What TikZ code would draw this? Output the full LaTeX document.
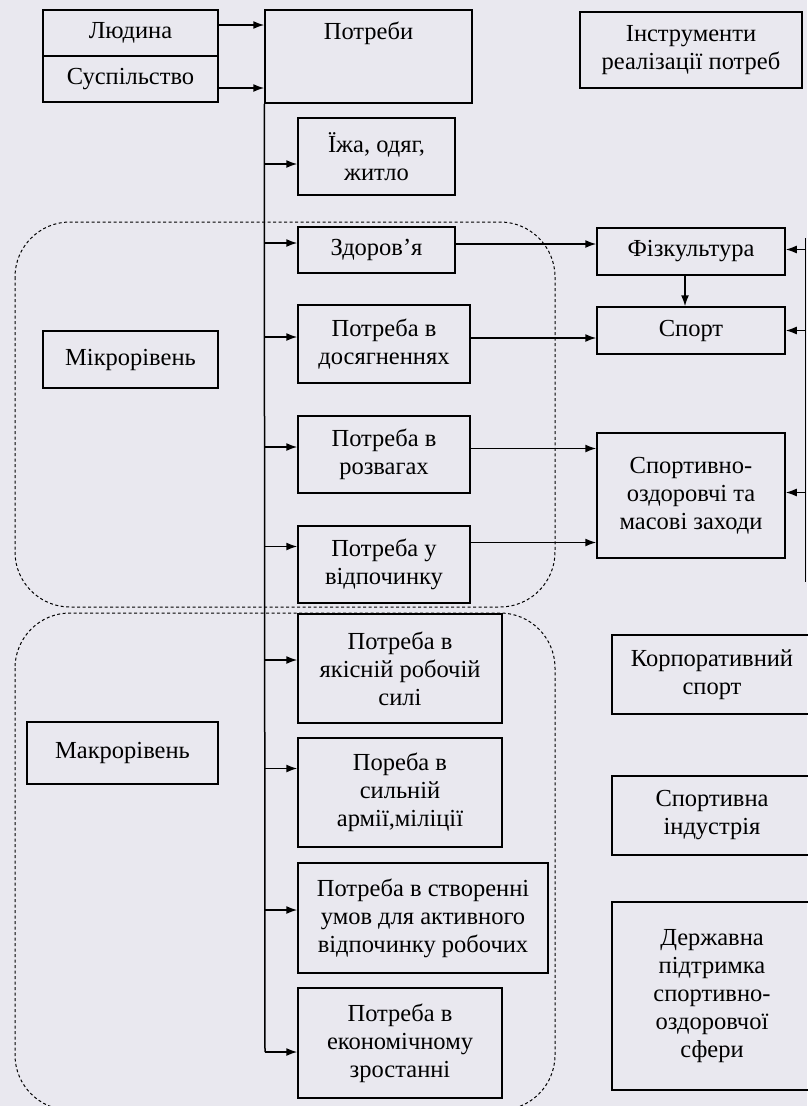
\documentclass[tikz,border=0pt]{standalone}
\usepackage{fontspec}
\setmainfont{Liberation Serif}
\usetikzlibrary{calc,arrows.meta}
\definecolor{paper}{RGB}{233,232,239}

\begin{document}
\begin{tikzpicture}[x=1pt,y=-1pt,
  box/.style={draw, line width=1.5pt, align=center, inner sep=2pt, font=\fontsize{24.5}{28}\selectfont},
  arr/.style={->, line width=1.5pt},
  >={Latex[length=11pt,width=8pt]},
  region/.style={line width=1pt, dash pattern=on 3pt off 2.5pt, rounded corners=55pt}]
\useasboundingbox[fill=paper] (0,0) rectangle (807,1106);

% left column
\node[box, minimum width=175pt, minimum height=46pt] (ludyna) at (130.5,33) {Людина};
\node[box, minimum width=175pt, minimum height=46pt] (suspil) at (130.5,79) {Суспільство};
\node[box, minimum width=175pt, minimum height=57pt] (mikro) at (130.5,359.5) {Мікрорівень};
\node[box, minimum width=191pt, minimum height=62pt] (makro) at (122.5,753) {Макрорівень};

% needs
\node[box, minimum width=207pt, minimum height=93pt,
  label={[anchor=north, yshift=-9pt, font=\fontsize{24.5}{28}\selectfont]north:Потреби}] (potreby) at (368.5,56.5) {};
\node[box, minimum width=157pt, minimum height=77pt] (yizha) at (376.5,156.5) {Їжа, одяг,\\житло};
\node[box, minimum width=157pt, minimum height=46pt] (zdorov) at (376.5,250) {Здоров’я};
\node[box, minimum width=172pt, minimum height=78pt] (dosyag) at (384,344) {Потреба в\\досягненнях};
\node[box, minimum width=172pt, minimum height=77pt] (rozvag) at (384,454.5) {Потреба в\\розвагах};
\node[box, minimum width=172pt, minimum height=77pt] (vidpoch) at (384,564.5) {Потреба у\\відпочинку};
\node[box, minimum width=204pt, minimum height=109pt] (yakisn) at (400,668.5) {Потреба в\\якісній робочій\\силі};
\node[box, minimum width=204pt, minimum height=109pt] (armiya) at (400,792.5) {Пореба в\\сильній\\армії,міліції};
\node[box, minimum width=250pt, minimum height=110pt] (umovy) at (423,918) {Потреба в створенні\\умов для активного\\відпочинку робочих};
\node[box, minimum width=204pt, minimum height=110pt] (ekonom) at (400,1043) {Потреба в\\економічному\\зростанні};

% instruments
\node[box, minimum width=222pt, minimum height=76pt] (instr) at (691,50) {Інструменти\\реалізації потреб};
\node[box, minimum width=188pt, minimum height=47pt] (fizk) at (691,251.5) {Фізкультура};
\node[box, minimum width=188pt, minimum height=47pt] (sport) at (691,330.5) {Спорт};
\node[box, minimum width=188pt, minimum height=125pt] (masovi) at (691,495.5) {Спортивно-\\оздоровчі та\\масові заходи};
\node[box, minimum width=200pt, minimum height=79pt] (korpor) at (712,674.5) {Корпоративний\\спорт};
\node[box, minimum width=200pt, minimum height=79pt] (industr) at (712,815.5) {Спортивна\\індустрія};
\node[box, minimum width=200pt, minimum height=188pt] (derzh) at (712,996) {Державна\\підтримка\\спортивно-\\оздоровчої\\сфери};

% micro and macro level
\draw[region] (15,222) rectangle (555,607);
\draw[region] (15,613) rectangle (555,1110);

\draw[arr] (ludyna.east |- 0,25) -- (potreby.west |- 0,25);
\draw[arr] (suspil.east |- 0,88) -- (potreby.west |- 0,88);

\coordinate (trunkend) at (265,1052);
\draw[line width=1.5pt] (potreby.south west) -- (trunkend);
\foreach \n/\s in {yizha/-7.5, zdorov/7, dosyag/7, rozvag/7.5, vidpoch/18, yakisn/8.5, armiya/24, umovy/8, ekonom/-9}
  \draw[arr] ($(trunkend |- \n.west)+(0pt,\s pt)$) -- ($(\n.west)+(0pt,\s pt)$);

\foreach \a/\b/\s in {zdorov/fizk/6, dosyag/sport/6, rozvag/masovi/6, vidpoch/masovi/22}
  \draw[arr] ($(\a.east)+(0pt,\s pt)$) -- ($(\a.east -| \b.west)+(0pt,\s pt)$);

\draw[arr] ($(fizk.south)+(-6pt,0pt)$) -- ($(sport.north)+(-6pt,0pt)$);

\coordinate (rtop) at (805,238);
\coordinate (rbot) at (805,582);
\draw[line width=1pt] (rtop) -- (rbot);
\foreach \b/\s in {fizk/2, sport/0, masovi/3}
  \draw[arr] ($(rtop |- \b.east)+(0pt,\s pt)$) -- ($(\b.east)+(0pt,\s pt)$);

\end{tikzpicture}
\end{document}
